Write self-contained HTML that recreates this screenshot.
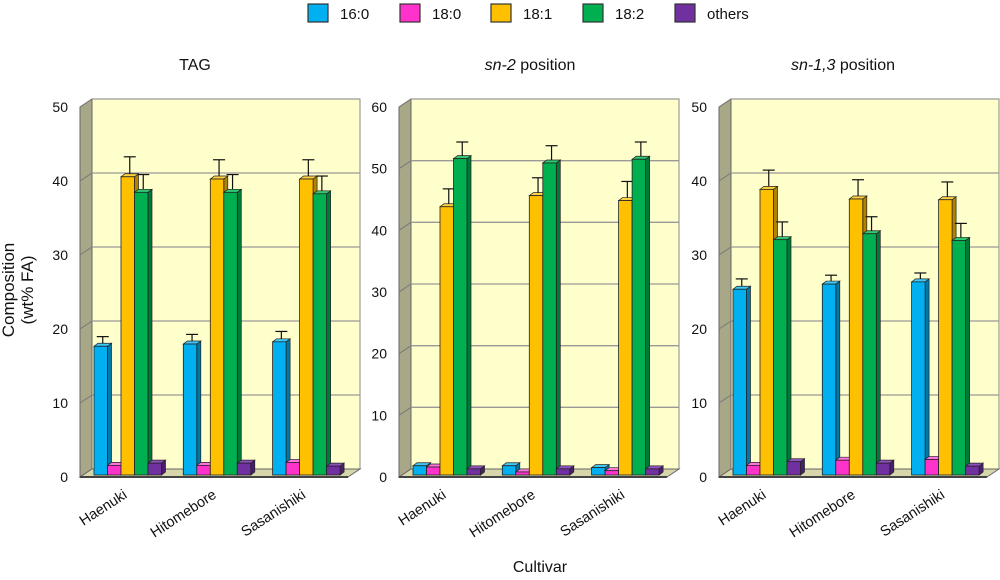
<!DOCTYPE html>
<html><head><meta charset="utf-8"><style>
body{margin:0;background:#fff;}
svg{display:block;font-family:"Liberation Sans",sans-serif;}
</style></head><body>
<svg id="chart" width="1000" height="580" viewBox="0 0 1000 580"></svg>
<script>
const categories = ["Haenuki","Hitomebore","Sasanishiki"];
const seriesNames = ["16:0","18:0","18:1","18:2","others"];
const panelTitles = ["TAG","sn-2 position","sn-1,3 position"];
const panelMax = [50,60,50];
const tagValues = [[17.4,1.3,40.3,38.2,1.6],[17.7,1.3,40.0,38.2,1.6],[18.0,1.7,40.0,38.0,1.2]];
const tagErrors = [[1.3,0,2.7,2.4,0],[1.3,0,2.6,2.4,0],[1.4,0,2.6,2.4,0]];
const sn2Values = [[1.5,1.3,43.5,51.3,1.0],[1.5,0.5,45.3,50.6,1.0],[1.2,0.7,44.5,51.2,1.0]];
const sn2Errors = [[0,0,2.9,2.7,0],[0,0,2.9,2.8,0],[0,0,3.1,2.8,0]];
const sn13Values = [[25.1,1.3,38.6,31.8,1.8],[25.8,2.0,37.3,32.6,1.6],[26.1,2.1,37.2,31.7,1.2]];
const sn13Errors = [[1.4,0,2.6,2.4,0],[1.2,0,2.6,2.3,0],[1.2,0,2.4,2.3,0]];

const NS="http://www.w3.org/2000/svg";
const svg=document.getElementById('chart');
const colors=["#00b0f0","#ff33cc","#ffc000","#00b050","#7030a0"];
const sideCol=["#0078a8","#b0208c","#b08400","#007a38","#4a1e6e"];
const topCol=["#40c8f8","#ff77dd","#ffd040","#30c870","#9050c0"];
function mk(tag,attrs,parent){const e=document.createElementNS(NS,tag);for(const k in attrs)e.setAttribute(k,attrs[k]);(parent||svg).appendChild(e);return e;}

// legend
const legX=[308,400,491,583,675];
seriesNames.forEach((n,i)=>{
  const g=mk('g',{});
  
  
  mk('rect',{x:legX[i],y:4,width:20,height:18,fill:colors[i],stroke:'#333','stroke-width':1.2},g);
  const t=mk('text',{x:legX[i]+32,y:19,'font-size':15,fill:'#111'},g);t.textContent=n;
});

const panels=[
 {vals:tagValues,errs:tagErrors,back:92,front:80,barStart:94,titleX:195},
 {vals:sn2Values,errs:sn2Errors,back:411,front:399,barStart:413,titleX:530},
 {vals:sn13Values,errs:sn13Errors,back:731,front:719,barStart:733,titleX:843}
];
const backTop=99, backBottom=469, frontBottom=477, W=268, dx=12, dy=8;
const bw=13.5, gstep=89.3;
panels.forEach((p,pi)=>{
  const g=mk('g',{});
  
  
  const max=panelMax[pi];
  const yBack=v=>backBottom-(v/max)*(backBottom-backTop);
  const yFront=v=>frontBottom-2-(v/max)*(backBottom-backTop);
  mk('rect',{x:p.back,y:backTop,width:W,height:backBottom-backTop,fill:'#ffffcc',stroke:'#888','stroke-width':1},g);
  mk('polygon',{points:`${p.front},${backTop+dy} ${p.back},${backTop} ${p.back},${backBottom} ${p.front},${frontBottom}`,fill:'#a8a888',stroke:'#666','stroke-width':1},g);
  mk('polygon',{points:`${p.front},${frontBottom} ${p.back},${backBottom} ${p.back+W},${backBottom} ${p.back+W-dx},${frontBottom}`,fill:'#d6d6aa',stroke:'#666','stroke-width':1},g);
  mk('line',{x1:p.front,y1:frontBottom,x2:p.back+W-dx,y2:frontBottom,stroke:'#444','stroke-width':2},g);
  for(let v=10;v<=max;v+=10){
    mk('line',{x1:p.back,y1:yBack(v),x2:p.back+W,y2:yBack(v),stroke:'#999','stroke-width':1.3},g);
    mk('line',{x1:p.front,y1:yBack(v)+dy,x2:p.back,y2:yBack(v),stroke:'#777','stroke-width':1},g);
  }
  for(let v=0;v<=max;v+=10){
    const t=mk('text',{x:p.front-12,y:yBack(v)+dy+5,'font-size':14,'text-anchor':'end',fill:'#111'},g);
    t.textContent=v;
  }
  const tt=mk('text',{x:p.titleX,y:70,'font-size':16,'text-anchor':'middle',fill:'#111'},g);
  
  
  if(pi===0) tt.textContent=panelTitles[0];
  else { const parts=pi===1?["sn-2"," position"]:["sn-1,3"," position"];
    const a=mk('tspan',{'font-style':'italic'},tt);a.textContent=parts[0];
    const b=mk('tspan',{},tt);b.textContent=parts[1]; }
  categories.forEach((c,ci)=>{
    const gx=p.barStart+ci*gstep;
    seriesNames.forEach((s,si)=>{
      const v=p.vals[ci][si], e=p.errs[ci][si];
      const x=gx+si*bw, yt=yFront(v), yb=frontBottom-2;
      const bg=mk('g',{},g);
      
      
      mk('polygon',{points:`${x+bw},${yt} ${x+bw+4},${yt-3} ${x+bw+4},${yb-3} ${x+bw},${yb}`,fill:sideCol[si],stroke:'#222','stroke-width':0.7},bg);
      mk('polygon',{points:`${x},${yt} ${x+4},${yt-3} ${x+bw+4},${yt-3} ${x+bw},${yt}`,fill:topCol[si],stroke:'#222','stroke-width':0.7},bg);
      mk('rect',{x:x,y:yt,width:bw,height:yb-yt,fill:colors[si],stroke:'#222','stroke-width':0.8},bg);
      if(e>0){
        const cx=x+bw/2+2, ye=yFront(v+e);
        mk('line',{x1:cx,y1:yt-3,x2:cx,y2:ye,stroke:'#111','stroke-width':1.2},bg);
        mk('line',{x1:cx-6,y1:ye,x2:cx+6,y2:ye,stroke:'#111','stroke-width':1.2},bg);
      }
    });
    const lx=gx+34, ly=497;
    const lt=mk('text',{x:lx,y:ly,'font-size':14.5,'text-anchor':'end',transform:`rotate(-33 ${lx} ${ly})`,fill:'#111'},g);
    
    
    lt.textContent=c;
  });
});
const yt=mk('text',{x:0,y:0,'font-size':17,'text-anchor':'middle',transform:'translate(14,290) rotate(-90)',fill:'#111'});


const t1=mk('tspan',{x:0,dy:0},yt);t1.textContent='Composition';
const t2=mk('tspan',{x:0,dy:19},yt);t2.textContent='(wt% FA)';
const xt=mk('text',{x:540,y:572,'font-size':16,'text-anchor':'middle',fill:'#111'});


xt.textContent='Cultivar';
</script>
</body></html>
